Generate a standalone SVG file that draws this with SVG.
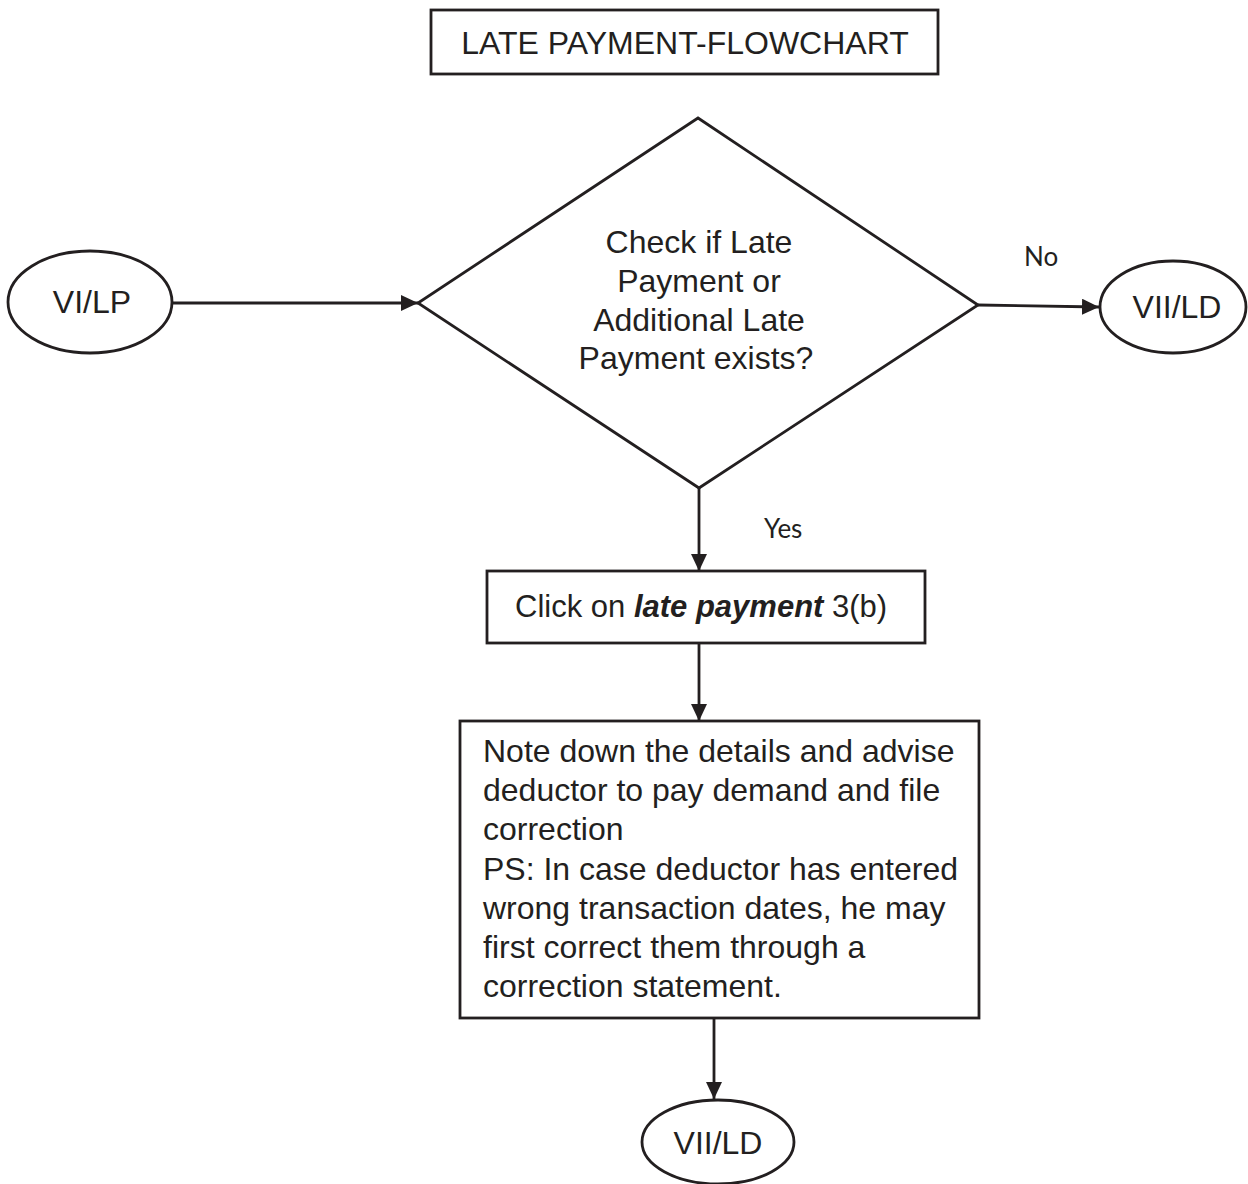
<svg xmlns="http://www.w3.org/2000/svg" width="1248" height="1184" viewBox="0 0 1248 1184">
  <style>
    .shape { fill: #ffffff; stroke: #231f20; stroke-width: 2.8; }
    .edge { fill: none; stroke: #231f20; stroke-width: 2.8; }
    .txt { font-family: "Liberation Sans", Arial, sans-serif; font-size: 32px; fill: #231f20; }
    .mid { text-anchor: middle; }
    .small { font-size: 31px; }
    .lbl { font-family: Lato, "Open Sans", sans-serif; font-size: 26px; fill: #231f20; }
  </style>
  <defs>
    <marker id="arrow" markerUnits="userSpaceOnUse" markerWidth="18" markerHeight="16" refX="17" refY="8" orient="auto">
      <path d="M0,0 L17,8 L0,16 z" fill="#231f20"/>
    </marker>
  </defs>
  <rect width="1248" height="1184" fill="#ffffff"/>

  <!-- heading -->
  <g id="title">
    <rect class="shape" x="431" y="10" width="507" height="64"/>
    <text class="txt mid" x="685" y="54">LATE PAYMENT-FLOWCHART</text>
  </g>

  <!-- connectors -->
  <g id="connectors">
    <line class="edge" x1="172" y1="303" x2="418" y2="303" marker-end="url(#arrow)"/>
    <line class="edge" x1="978" y1="305" x2="1099" y2="307" marker-end="url(#arrow)"/>
    <line class="edge" x1="699" y1="488" x2="699" y2="571" marker-end="url(#arrow)"/>
    <line class="edge" x1="699" y1="643" x2="699" y2="721" marker-end="url(#arrow)"/>
    <line class="edge" x1="714" y1="1018" x2="714" y2="1099" marker-end="url(#arrow)"/>
    <text class="lbl" x="1024" y="266">No</text>
    <text class="lbl" x="764" y="538">Yes</text>
  </g>

  <g id="start-vi-lp">
    <ellipse class="shape" cx="90" cy="302" rx="82" ry="51"/>
    <text class="txt mid" x="92" y="313">VI/LP</text>
  </g>

  <g id="check-late-payment">
    <polygon class="shape" points="698,118 978,305 699,488 418,303"/>
    <text class="txt mid" x="699" y="253">Check if Late</text>
    <text class="txt mid" x="699" y="292">Payment or</text>
    <text class="txt mid" x="699" y="331">Additional Late</text>
    <text class="txt mid" x="696" y="369">Payment exists?</text>
  </g>

  <g id="end-vii-ld-right">
    <ellipse class="shape" cx="1173" cy="307" rx="73" ry="46"/>
    <text class="txt mid" x="1177" y="318">VII/LD</text>
  </g>

  <g id="click-late-payment">
    <rect class="shape" x="487" y="571" width="438" height="72"/>
    <text class="txt small" x="515" y="617">Click on <tspan font-weight="bold" font-style="italic">late payment</tspan> 3(b)</text>
  </g>

  <g id="note-details">
    <rect class="shape" x="460" y="721" width="519" height="297"/>
    <text class="txt" x="483" y="762">Note down the details and advise</text>
    <text class="txt" x="483" y="801">deductor to pay demand and file</text>
    <text class="txt" x="483" y="840">correction</text>
    <text class="txt" x="483" y="880">PS: In case deductor has entered</text>
    <text class="txt" x="483" y="919">wrong transaction dates, he may</text>
    <text class="txt" x="483" y="958">first correct them through a</text>
    <text class="txt" x="483" y="997">correction statement.</text>
  </g>

  <g id="end-vii-ld-bottom">
    <ellipse class="shape" cx="718" cy="1142" rx="76" ry="42"/>
    <text class="txt mid" x="718" y="1154">VII/LD</text>
  </g>
</svg>
